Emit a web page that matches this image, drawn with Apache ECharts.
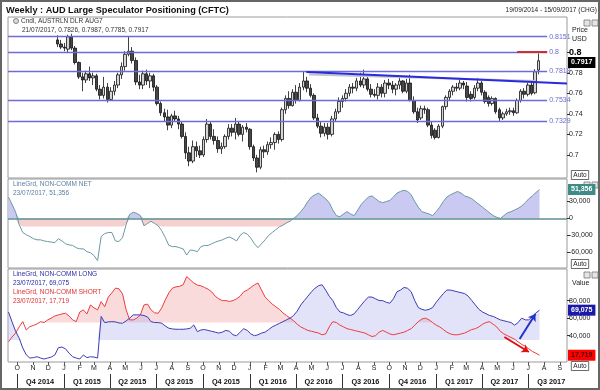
<!DOCTYPE html>
<html><head><meta charset="utf-8">
<script src="https://cdn.jsdelivr.net/npm/echarts@6/dist/echarts.min.js"></script>
<style>html,body{margin:0;padding:0;background:#fff}#c{width:600px;height:390px}</style>
</head><body><div id="c"></div>
<script>
// ---------------- data ----------------
const AXIS_START = '2014-09-13', AXIS_END = '2017-09-15';
const CANDLE_START = '2014-12-19';   // weekly candles (Fridays)
const CFTC_START = '2014-09-14';     // weekly CFTC values
// [open, high, low, close]
const candleOHLC = [
[0.8120,0.8165,0.8050,0.8080],[0.8080,0.8120,0.8030,0.8050],[0.8050,0.8090,0.8010,0.8040],[0.8030,0.8170,0.8000,0.8150],
[0.8150,0.8180,0.8020,0.8040],[0.8040,0.8060,0.7880,0.7900],[0.7900,0.7910,0.7740,0.7760],[0.7760,0.7800,0.7620,0.7730],
[0.7730,0.7820,0.7700,0.7790],[0.7790,0.7860,0.7720,0.7750],[0.7750,0.7800,0.7680,0.7770],[0.7770,0.7790,0.7620,0.7640],
[0.7640,0.7680,0.7540,0.7580],[0.7580,0.7760,0.7550,0.7660],[0.7660,0.7700,0.7510,0.7540],[0.7540,0.7660,0.7530,0.7620],
[0.7620,0.7720,0.7580,0.7680],[0.7680,0.7800,0.7650,0.7780],[0.7780,0.7900,0.7740,0.7860],[0.7860,0.8010,0.7820,0.7980],
[0.7980,0.8150,0.7960,0.8010],[0.8010,0.8050,0.7890,0.7920],[0.7920,0.7950,0.7680,0.7710],[0.7710,0.7780,0.7640,0.7680],
[0.7680,0.7820,0.7640,0.7790],[0.7790,0.7830,0.7680,0.7720],[0.7720,0.7800,0.7650,0.7770],[0.7770,0.7790,0.7620,0.7660],
[0.7660,0.7680,0.7480,0.7500],[0.7500,0.7520,0.7380,0.7410],[0.7410,0.7450,0.7330,0.7370],[0.7370,0.7440,0.7240,0.7290],
[0.7290,0.7400,0.7260,0.7380],[0.7380,0.7430,0.7320,0.7350],[0.7350,0.7380,0.7250,0.7300],[0.7300,0.7330,0.7160,0.7180],
[0.7180,0.7220,0.6960,0.7020],[0.7020,0.7080,0.6890,0.6940],[0.6940,0.7140,0.6920,0.7080],[0.7080,0.7130,0.6980,0.7040],
[0.7040,0.7090,0.6970,0.7000],[0.7000,0.7180,0.6980,0.7150],[0.7150,0.7350,0.7120,0.7300],[0.7300,0.7320,0.7150,0.7180],
[0.7180,0.7250,0.7100,0.7140],[0.7140,0.7180,0.7020,0.7060],[0.7060,0.7120,0.7010,0.7080],[0.7080,0.7200,0.7060,0.7180],
[0.7180,0.7300,0.7150,0.7260],[0.7260,0.7300,0.7180,0.7220],[0.7220,0.7360,0.7150,0.7300],[0.7300,0.7330,0.7180,0.7200],
[0.7200,0.7290,0.7130,0.7270],[0.7270,0.7310,0.7220,0.7250],[0.7250,0.7260,0.7050,0.7080],[0.7080,0.7100,0.6940,0.6970],
[0.6970,0.7000,0.6830,0.6880],[0.6880,0.7080,0.6860,0.7050],[0.7050,0.7090,0.6970,0.7030],[0.7030,0.7130,0.7000,0.7100],
[0.7100,0.7170,0.7060,0.7120],[0.7120,0.7220,0.7050,0.7200],[0.7200,0.7230,0.7110,0.7150],[0.7150,0.7460,0.7130,0.7440],
[0.7440,0.7580,0.7400,0.7550],[0.7550,0.7620,0.7450,0.7480],[0.7480,0.7640,0.7470,0.7610],[0.7610,0.7680,0.7500,0.7530],
[0.7530,0.7700,0.7520,0.7660],[0.7660,0.7807,0.7630,0.7720],[0.7720,0.7760,0.7610,0.7650],[0.7650,0.7690,0.7560,0.7580],
[0.7580,0.7600,0.7340,0.7360],[0.7360,0.7400,0.7260,0.7280],[0.7280,0.7320,0.7170,0.7210],[0.7210,0.7310,0.7180,0.7270],
[0.7270,0.7310,0.7150,0.7200],[0.7200,0.7380,0.7180,0.7350],[0.7350,0.7450,0.7320,0.7420],[0.7420,0.7560,0.7400,0.7520],
[0.7520,0.7580,0.7460,0.7550],[0.7550,0.7640,0.7520,0.7600],[0.7600,0.7690,0.7570,0.7660],[0.7660,0.7700,0.7600,0.7650],
[0.7650,0.7750,0.7620,0.7720],[0.7720,0.7800,0.7660,0.7680],[0.7680,0.7830,0.7650,0.7740],[0.7740,0.7760,0.7620,0.7640],
[0.7640,0.7690,0.7560,0.7590],[0.7590,0.7640,0.7560,0.7580],[0.7580,0.7700,0.7540,0.7660],[0.7660,0.7690,0.7560,0.7600],
[0.7600,0.7730,0.7560,0.7700],[0.7700,0.7740,0.7640,0.7680],[0.7680,0.7720,0.7600,0.7640],[0.7640,0.7700,0.7580,0.7680],
[0.7680,0.7760,0.7640,0.7720],[0.7720,0.7730,0.7600,0.7620],[0.7620,0.7740,0.7600,0.7700],[0.7700,0.7780,0.7520,0.7530],
[0.7530,0.7570,0.7400,0.7420],[0.7420,0.7460,0.7310,0.7340],[0.7360,0.7480,0.7340,0.7450],[0.7450,0.7480,0.7400,0.7440],
[0.7440,0.7460,0.7270,0.7290],[0.7290,0.7320,0.7160,0.7190],[0.7240,0.7260,0.7150,0.7170],[0.7170,0.7300,0.7160,0.7280],
[0.7280,0.7480,0.7260,0.7470],[0.7470,0.7580,0.7440,0.7560],[0.7560,0.7640,0.7530,0.7620],[0.7620,0.7680,0.7580,0.7660],
[0.7660,0.7700,0.7620,0.7650],[0.7650,0.7750,0.7630,0.7700],[0.7700,0.7720,0.7640,0.7680],[0.7670,0.7710,0.7520,0.7560],
[0.7590,0.7620,0.7520,0.7550],[0.7560,0.7680,0.7540,0.7650],[0.7650,0.7750,0.7620,0.7700],[0.7700,0.7720,0.7580,0.7610],
[0.7610,0.7630,0.7500,0.7520],[0.7560,0.7580,0.7470,0.7500],[0.7500,0.7570,0.7480,0.7550],[0.7550,0.7560,0.7400,0.7420],
[0.7440,0.7460,0.7330,0.7360],[0.7360,0.7420,0.7340,0.7400],[0.7400,0.7450,0.7380,0.7420],[0.7420,0.7460,0.7390,0.7430],
[0.7430,0.7460,0.7380,0.7410],[0.7410,0.7550,0.7400,0.7530],[0.7530,0.7640,0.7510,0.7620],[0.7620,0.7650,0.7550,0.7590],
[0.7590,0.7700,0.7570,0.7680],[0.7680,0.7710,0.7580,0.7600],[0.7605,0.7835,0.7590,0.7810],[0.7826,0.7987,0.7785,0.7917]
];
const netValues = [37700,25000,11000,-11000,-25000,-29000,-32000,-36000,-38000,-38000,-40000,-41000,-42000,-43000,-36000,-40000,-45000,-47000,-48000,-52000,-54000,-54000,-59000,-61000,-66000,-75000,-32000,-27000,-25000,-25000,-40000,-41000,-34000,-11000,7000,11000,9000,5000,-13000,-9000,-5000,-9000,-13000,-22000,-34000,-48000,-50000,-50000,-52000,-54000,-65000,-56000,-57000,-59000,-50000,-48000,
-48000,-45000,-42000,-40000,-38000,-35000,-33000,-36000,-40000,-30000,-25000,-28000,-35000,-45000,-52000,-45000,-38000,-30000,-25000,-20000,-15000,-12000,-8000,-5000,0,5000,12000,20000,30000,38000,42000,45000,40000,35000,28000,15000,5000,3000,8000,12000,8000,5000,15000,25000,32000,38000,40000,35000,30000,28000,30000,32000,38000,45000,48000,50000,48000,42000,30000,20000,12000,10000,8000,5000,12000,20000,30000,38000,42000,45000,48000,45000,40000,38000,35000,30000,25000,20000,15000,10000,5000,2000,0,5000,10000,12000,15000,18000,22000,28000,35000,40000,46000,51356];
const longValues = [67000,55700,45000,37000,26000,18000,14500,15000,16000,14500,13400,14500,15600,18000,26300,27000,25000,20000,16000,14500,13400,18000,15000,16000,15600,14500,62000,54900,55700,56000,55700,54500,54200,56800,60000,63700,63700,63700,63000,61400,56000,55000,54900,54200,51000,48500,47700,47300,47300,47300,47700,48500,52200,44600,46500,47000,
46000,45000,44000,43000,44000,46000,45000,41000,40000,44000,48000,46000,42000,40000,41000,43000,44000,47000,50000,52000,54000,56000,58000,60000,63000,68000,75000,80000,85000,90000,94000,97000,98000,92000,85000,80000,72000,67000,66000,64000,63000,65000,70000,75000,80000,84000,84000,82000,80000,80000,78000,77000,82000,90000,92000,95000,94000,90000,80000,72000,70000,69000,70000,72000,78000,83000,88000,92000,92000,91000,90000,89000,88000,85000,80000,75000,70000,67000,65000,63000,62000,60000,58000,57000,56000,55000,52000,55000,60000,58000,58000,62000,66000,69075];
const shortValues = [33000,38500,43000,50000,56000,46500,50300,51700,53400,56000,55000,58000,60000,62500,63700,64800,65600,62500,58000,56000,67000,69400,64800,75000,71700,69400,78900,73000,84000,88800,94200,93400,87700,69400,58000,58000,60000,63700,75000,76000,69400,66000,65600,71700,80800,88800,94200,95700,96200,98000,107400,103700,100000,97700,96800,95000,
93000,90000,85000,82000,80000,80000,79000,80000,82000,85000,90000,92000,95000,98000,100000,92000,84000,80000,76000,73000,70000,66000,63000,60000,57000,53000,50000,48000,46000,45000,44000,43000,41000,42000,50000,56000,55000,52000,50000,48000,47000,46000,45000,44000,43000,41000,39000,40000,44000,46000,44000,42000,41000,42000,43000,44000,46000,48000,52000,56000,59000,60000,58000,55000,52000,50000,47000,44000,42000,41000,41000,42000,43000,45000,47000,48000,50000,53000,55000,56000,53000,50000,45000,42000,40000,38000,36000,33000,30000,28000,25000,22000,20000,17719];
const supportLevels = [0.8151, 0.8, 0.7818, 0.7534, 0.7329];
const priceTicks = [0.7, 0.72, 0.74, 0.76, 0.78, 0.8];
const netTicks = [-60000, -30000, 0, 30000];
const posTicks = [40000, 60000, 80000];
const monthLetters = ['J','F','M','A','M','J','J','A','S','O','N','D'];
const quarterLabels = ['Q4 2014','Q1 2015','Q2 2015','Q3 2015','Q4 2015','Q1 2016','Q2 2016','Q3 2016','Q4 2016','Q1 2017','Q2 2017','Q3 2017'];
// annotations: [date, value]
const trendLine = [['2016-04-21', 0.7807], [AXIS_END, 0.7696]];
const trendShadow = [['2016-04-26', 0.7784], ['2017-07-16', 0.7719]];
const redLevel = [['2017-06-09', 0.8], ['2017-08-07', 0.8]];
const SUPPORT_END = '2017-08-07';
const longArrow = [['2017-06-14', 36200], ['2017-07-15', 64800]];
const shortArrow = [['2017-05-15', 38500], ['2017-07-02', 21400]];
const NET_BAND = -14400, LONG_BASE = 35100, SHORT_BASE = 54900;

// ---------------- build ----------------
const DAY = 86400000;
const utc = s => Date.parse(s + 'T00:00:00Z');
const tMin = utc(AXIS_START), tMax = utc(AXIS_END);
const weeks = (s, n) => Array.from({length: n}, (_, k) => utc(s) + k * 7 * DAY);
const candleDates = weeks(CANDLE_START, candleOHLC.length);
const cftcDates = weeks(CFTC_START, netValues.length);
const candleData = candleOHLC.map((r, k) => [candleDates[k], r[0], r[3], r[2], r[1]]);
const pair = vals => vals.map((v, k) => [cftcDates[k], v]);
const monthStarts = Array.from({length: 36}, (_, k) => Date.UTC(2014, 9 + k, 1));
const quarterStarts = Array.from({length: 12}, (_, k) => Date.UTC(2014, 9 + 3 * k, 1));
const quarterMids = Array.from({length: 12}, (_, k) => Date.UTC(2014, 10 + 3 * k, 15));
const fmtNum = v => Math.round(v).toLocaleString('en-US');
const seg = (p, extra) => [Object.assign({coord: [utc(p[0][0]), p[0][1]]}, extra || {}), {coord: [utc(p[1][0]), p[1][1]]}];
const lastClose = candleOHLC[candleOHLC.length - 1][3];
const FONT = 'Liberation Sans, Arial, sans-serif';

const gridBase = {left: 8, right: 33, show: true, borderColor: '#9a9a9a', borderWidth: 1, backgroundColor: 'transparent'};
const hiddenX = gi => ({type: 'value', gridIndex: gi, min: tMin, max: tMax, axisLine: {show: false}, axisTick: {show: false}, axisLabel: {show: false}, splitLine: {show: false}});
const yBase = (gi, min, max, ticks, fmt) => ({
  type: 'value', gridIndex: gi, position: 'right', min, max, scale: true,
  splitLine: {show: false}, axisLine: {show: false},
  axisTick: {show: true, customValues: ticks, length: 3, lineStyle: {color: '#333'}},
  axisLabel: {customValues: ticks, formatter: fmt, fontSize: 7, color: '#222', margin: 2, fontFamily: FONT,
    rich: {b: {fontWeight: 'bold', fontSize: 9, color: '#000', fontFamily: FONT}}}
});
const lastLabel = (val, text, bg, color) => ({
  yAxis: val, lineStyle: {color: 'rgba(0,0,0,0)', width: 0},
  label: {show: true, position: 'end', distance: 1, formatter: text, backgroundColor: bg, color: color,
    fontSize: 7, fontWeight: 'bold', padding: [2, 3], fontFamily: FONT}
});

const supportLines = supportLevels.map(l => [
  {coord: [tMin, l], lineStyle: {color: '#6c6cd6', width: 1.3, type: 'solid'},
   label: {show: true, position: 'end', distance: 2, formatter: String(l), color: '#6a6ad0', fontSize: 7, fontFamily: FONT}},
  {coord: [utc(SUPPORT_END), l]}
]);
const ML = {silent: true, symbol: ['none', 'none'], animation: false, lineStyle: {type: 'solid'}};

const option = {
  animation: false,
  textStyle: {fontFamily: FONT},
  grid: [
    Object.assign({top: 17, height: 161}, gridBase),
    Object.assign({top: 179, height: 89}, gridBase),
    Object.assign({top: 269, height: 93}, gridBase)
  ],
  xAxis: [
    hiddenX(0), hiddenX(1),
    {type: 'value', gridIndex: 2, min: tMin, max: tMax, splitLine: {show: false},
     axisLine: {show: false},
     axisTick: {show: true, customValues: monthStarts, length: 3, lineStyle: {color: '#555'}},
     axisLabel: {show: true, customValues: monthStarts, margin: 3, fontSize: 7, color: '#222', fontFamily: FONT,
       formatter: v => monthLetters[new Date(v).getUTCMonth()]}},
    {type: 'value', gridIndex: 2, min: tMin, max: tMax, position: 'bottom', offset: 12, splitLine: {show: false},
     axisLine: {show: false},
     axisTick: {show: true, customValues: quarterStarts, length: 14, lineStyle: {color: '#333', width: 1}},
     axisLabel: {show: true, customValues: quarterMids, margin: 4, fontSize: 7.3, fontWeight: 'bold', color: '#111', fontFamily: FONT,
       formatter: v => { let b = 0; quarterMids.forEach((q, k) => { if (Math.abs(q - v) < Math.abs(quarterMids[b] - v)) b = k; }); return quarterLabels[b]; }}}
  ],
  yAxis: [
    yBase(0, 0.6775, 0.8343, priceTicks, v => Math.abs(v - 0.8) < 1e-9 ? '{b|0.8}' : String(+v.toFixed(2))),
    yBase(1, -88000, 70000, netTicks, fmtNum),
    yBase(2, 10000, 116000, posTicks, fmtNum)
  ],
  series: [
    {type: 'candlestick', xAxisIndex: 0, yAxisIndex: 0, data: candleData, encode: {x: 0, y: [1, 2, 3, 4]},
     barWidth: 3, silent: true,
     itemStyle: {color: '#d6d6d6', color0: '#474747', borderColor: '#111', borderColor0: '#111', borderWidth: 0.8},
     markLine: Object.assign({}, ML, {
       data: supportLines.concat([
         seg(redLevel, {lineStyle: {color: '#cc3030', width: 2, type: 'solid'}, label: {show: false}}),
         seg(trendShadow, {lineStyle: {color: '#c4c4c4', width: 2, type: 'solid'}, label: {show: false}}),
         seg(trendLine, {lineStyle: {color: '#2a2ae0', width: 2, type: 'solid'}, label: {show: false}}),
         lastLabel(lastClose, lastClose.toFixed(4), '#000', '#fff')
       ])})},
    // net panel
    {type: 'line', xAxisIndex: 1, yAxisIndex: 1, data: pair(netValues.map(v => Math.max(v, 0))), showSymbol: false, silent: true,
     lineStyle: {width: 0}, areaStyle: {color: '#c9c9f2', opacity: 1, origin: 0}, z: 1},
    {type: 'line', xAxisIndex: 1, yAxisIndex: 1, data: pair(netValues.map(v => v < 0 ? Math.max(v, NET_BAND) : 0)), showSymbol: false, silent: true,
     lineStyle: {width: 0}, areaStyle: {color: '#f6cfcf', opacity: 1, origin: 0}, z: 1},
    {type: 'line', xAxisIndex: 1, yAxisIndex: 1, data: pair(netValues), showSymbol: false, silent: true,
     lineStyle: {color: '#6a98a2', width: 1}, z: 3,
     markLine: Object.assign({}, ML, {
       data: [
         {yAxis: 0, lineStyle: {color: '#5d9090', width: 1.5, type: 'solid'}, label: {show: false}},
         lastLabel(netValues[netValues.length - 1], fmtNum(netValues[netValues.length - 1]), '#3f8c86', '#fff')
       ]})},
    // long / short panel
    {type: 'line', xAxisIndex: 2, yAxisIndex: 2, data: pair(shortValues.map(v => Math.max(v, SHORT_BASE))), showSymbol: false, silent: true,
     lineStyle: {width: 0}, areaStyle: {color: 'rgba(242,170,170,0.6)', origin: SHORT_BASE}, z: 1},
    {type: 'line', xAxisIndex: 2, yAxisIndex: 2, data: pair(longValues.map(v => Math.max(v, LONG_BASE))), showSymbol: false, silent: true,
     lineStyle: {width: 0}, areaStyle: {color: 'rgba(180,180,236,0.55)', origin: LONG_BASE}, z: 1},
    {type: 'line', xAxisIndex: 2, yAxisIndex: 2, data: pair(shortValues), showSymbol: false, silent: true,
     lineStyle: {color: '#ee3b3b', width: 1}, z: 3,
     markLine: {silent: true, symbol: ['none', 'arrow'], symbolSize: 7, animation: false,
       data: [
         seg(shortArrow, {lineStyle: {color: '#dd1111', width: 2, type: 'solid'}, label: {show: false}}),
         Object.assign(lastLabel(shortValues[shortValues.length - 1], fmtNum(shortValues[shortValues.length - 1]), '#ff0000', '#400'), {symbol: 'none'})
       ]}},
    {type: 'line', xAxisIndex: 2, yAxisIndex: 2, data: pair(longValues), showSymbol: false, silent: true,
     lineStyle: {color: '#3c3cb4', width: 1}, z: 3,
     markLine: {silent: true, symbol: ['none', 'arrow'], symbolSize: 7, animation: false,
       data: [
         seg(longArrow, {lineStyle: {color: '#2233cc', width: 2, type: 'solid'}, label: {show: false}}),
         Object.assign(lastLabel(longValues[longValues.length - 1], fmtNum(longValues[longValues.length - 1]), '#1a1aa8', '#fff'), {symbol: 'none'})
       ]}}
  ],
  graphic: [
    {type: 'rect', shape: {x: 1, y: 1, width: 598, height: 388}, style: {fill: 'none', stroke: '#666', lineWidth: 2}, silent: true},
    {type: 'text', x: 6, y: 10, style: {text: 'Weekly : AUD Large Speculator Positioning (CFTC)', font: 'bold 9.2px ' + FONT, fill: '#111', verticalAlign: 'middle'}},
    {type: 'text', x: 597, y: 10, style: {text: '19/09/2014 - 15/09/2017 (CHG)', font: '6.5px ' + FONT, fill: '#222', align: 'right', verticalAlign: 'middle'}},
    {type: 'circle', shape: {cx: 16, cy: 21, r: 2.5}, style: {fill: '#ddd', stroke: '#666', lineWidth: 0.8}},
    {type: 'text', x: 21, y: 21, style: {text: 'Cndl, AUSTRLN DLR AUG7', font: '6.5px ' + FONT, fill: '#333', verticalAlign: 'middle'}},
    {type: 'text', x: 22, y: 30, style: {text: '21/07/2017, 0.7826, 0.7987, 0.7785, 0.7917', font: '6.5px ' + FONT, fill: '#333', verticalAlign: 'middle'}},
    {type: 'text', x: 572, y: 30, style: {text: 'Price', font: '7px ' + FONT, fill: '#222', verticalAlign: 'middle'}},
    {type: 'text', x: 572, y: 39, style: {text: 'USD', font: '7px ' + FONT, fill: '#222', verticalAlign: 'middle'}},
    {type: 'text', x: 13, y: 184, style: {text: 'LineGrd, NON-COMM NET', font: '6.5px ' + FONT, fill: '#5b7fa0', verticalAlign: 'middle'}},
    {type: 'text', x: 13, y: 193, style: {text: '23/07/2017, 51,356', font: '6.5px ' + FONT, fill: '#5b7fa0', verticalAlign: 'middle'}},
    {type: 'text', x: 13, y: 274, style: {text: 'LineGrd, NON-COMM LONG', font: '6.5px ' + FONT, fill: '#2a2aa8', verticalAlign: 'middle'}},
    {type: 'text', x: 13, y: 283, style: {text: '23/07/2017, 69,075', font: '6.5px ' + FONT, fill: '#2a2aa8', verticalAlign: 'middle'}},
    {type: 'text', x: 13, y: 292, style: {text: 'LineGrd, NON-COMM SHORT', font: '6.5px ' + FONT, fill: '#e03030', verticalAlign: 'middle'}},
    {type: 'text', x: 13, y: 301, style: {text: '23/07/2017, 17,719', font: '6.5px ' + FONT, fill: '#e03030', verticalAlign: 'middle'}},
    {type: 'text', x: 572, y: 283, style: {text: 'Value', font: '7px ' + FONT, fill: '#222', verticalAlign: 'middle'}},
    {type: 'text', x: 580, y: 175, style: {text: 'Auto', font: '6.5px ' + FONT, fill: '#222', align: 'center', verticalAlign: 'middle', padding: [1, 2], borderColor: '#444', borderWidth: 0.8}},
    {type: 'text', x: 580, y: 264, style: {text: 'Auto', font: '6.5px ' + FONT, fill: '#222', align: 'center', verticalAlign: 'middle', padding: [1, 2], borderColor: '#444', borderWidth: 0.8}},
    {type: 'text', x: 580, y: 366, style: {text: 'Auto', font: '6.5px ' + FONT, fill: '#222', align: 'center', verticalAlign: 'middle', padding: [1, 2], borderColor: '#444', borderWidth: 0.8}}
  ].concat([20, 182, 272].flatMap(y => [
    {type: 'rect', shape: {x: 584, y: y, width: 6, height: 6}, style: {fill: '#e4e4e4', stroke: '#777', lineWidth: 0.8}, silent: true},
    {type: 'rect', shape: {x: 592, y: y, width: 6, height: 6}, style: {fill: '#e4e4e4', stroke: '#777', lineWidth: 0.8}, silent: true}
  ]))
};
const chart = echarts.init(document.getElementById('c'), null, {renderer: 'canvas'});
chart.setOption(option);
</script></body></html>
